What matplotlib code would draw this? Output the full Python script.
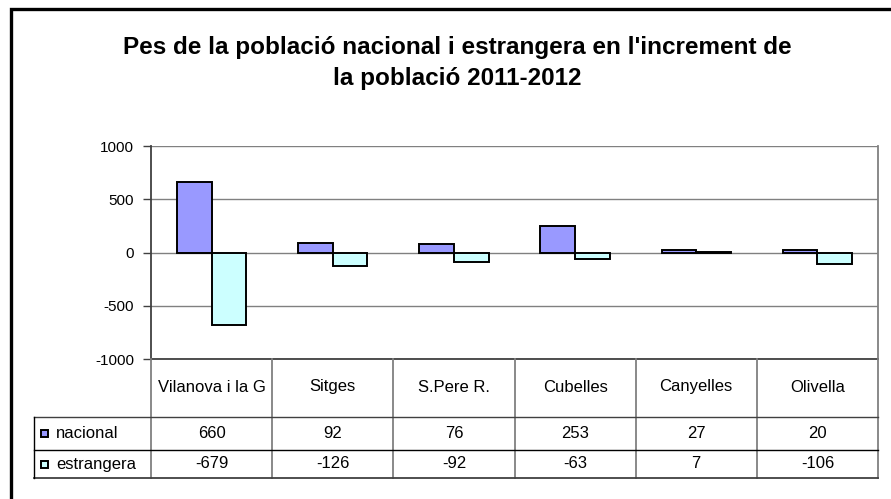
import matplotlib
matplotlib.use("Agg")
import matplotlib.pyplot as plt
from matplotlib.patches import Rectangle
import numpy as np

categories = ["Vilanova i la G", "Sitges", "S.Pere R.", "Cubelles", "Canyelles", "Olivella"]
series_names = ["nacional", "estrangera"]
nacional = [660, 92, 76, 253, 27, 20]
estrangera = [-679, -126, -92, -63, 7, -106]
yticks = [-1000, -500, 0, 500, 1000]
title = "Pes de la població nacional i estrangera en l'increment de\nla població 2011-2012"

colors = ["#9999FF", "#CCFFFF"]
plt.rcParams['font.family'] = ['Liberation Sans', 'DejaVu Sans']

W, H = 891, 499
fig = plt.figure(figsize=(W / 100, H / 100), dpi=100)
fig.patch.set_facecolor("white")

def fx(px):
    return px / W

def fy(py):
    return 1 - py / H

# outer frame
fig.patches.append(Rectangle((fx(11), fy(560)), fx(900) - fx(11), fy(8.5) - fy(560),
                             transform=fig.transFigure, fill=False, edgecolor="black",
                             linewidth=2.4, zorder=10))

fig.text(fx(457), fy(63), title, ha="center", va="center", fontsize=17.5,
         fontweight="bold", linespacing=1.42)

L, R, T, B = 151, 878, 146, 359
ax = fig.add_axes([fx(L), fy(B), fx(R) - fx(L), fy(T) - fy(B)])
x = np.arange(len(categories))
w = 1 / 3.5
ax.bar(x - w / 2, nacional, width=w, color=colors[0], edgecolor="black", linewidth=1.4, zorder=3)
ax.bar(x + w / 2, estrangera, width=w, color=colors[1], edgecolor="black", linewidth=1.4, zorder=3)
ax.set_xlim(-0.5, len(categories) - 0.5)
ax.set_ylim(-1000, 1000)
ax.set_yticks(yticks)
ax.set_yticklabels([str(v) for v in yticks], fontsize=11)
ax.set_xticks([])
ax.yaxis.grid(True, color="#808080", linewidth=1.0, zorder=0)
ax.tick_params(axis="y", length=6, width=1, color="#404040", pad=6)
ax.spines["top"].set_visible(False)
ax.spines["left"].set_color("#404040")
ax.spines["left"].set_linewidth(1.3)
ax.spines["bottom"].set_color("#404040")
ax.spines["bottom"].set_linewidth(1.3)
ax.spines["right"].set_color("#808080")
ax.spines["right"].set_linewidth(1.3)

# data table
TB = 478
tax = fig.add_axes([fx(L), fy(TB), fx(R) - fx(L), fy(B) - fy(TB)])
tax.set_xlim(-0.5, len(categories) - 0.5)
tax.set_ylim(TB - B, 0)
tax.axis("off")
r1, r2, r3 = 58, 91, TB - B
colw_px = (R - L) / len(categories)
legend_left = -0.5 - (L - 34) / colw_px

for i in range(len(categories) + 1):
    tax.plot([i - 0.5, i - 0.5], [0, r3], color="#808080", lw=1.3, clip_on=False)
tax.plot([legend_left, len(categories) - 0.5], [r1, r1], color="#404040", lw=1.0, clip_on=False)
tax.plot([legend_left, len(categories) - 0.5], [r2, r2], color="black", lw=1.0, clip_on=False)
tax.plot([legend_left, len(categories) - 0.5], [r3, r3], color="#404040", lw=1.3, clip_on=False)
tax.plot([legend_left, legend_left], [r1, r3], color="black", lw=1.0, clip_on=False)

for i, c in enumerate(categories):
    tax.text(i, r1 / 2 - 1, c, ha="center", va="center", fontsize=12)
for row_y, vals in [((r1 + r2) / 2, nacional), ((r2 + r3) / 2, estrangera)]:
    for i, v in enumerate(vals):
        tax.text(i, row_y, str(v), ha="center", va="center", fontsize=12)

key_w = 7 / colw_px
for (row_y, name, col) in [((r1 + r2) / 2, series_names[0], colors[0]),
                           ((r2 + r3) / 2, series_names[1], colors[1])]:
    kx = legend_left + 7 / colw_px
    tax.add_patch(Rectangle((kx, row_y - 3.5), key_w, 7, facecolor=col, edgecolor="black",
                            lw=1.4, clip_on=False))
    tax.text(legend_left + 22 / colw_px, row_y, name, ha="left", va="center", fontsize=12)

fig.savefig("out.png", dpi=100, facecolor="white")
